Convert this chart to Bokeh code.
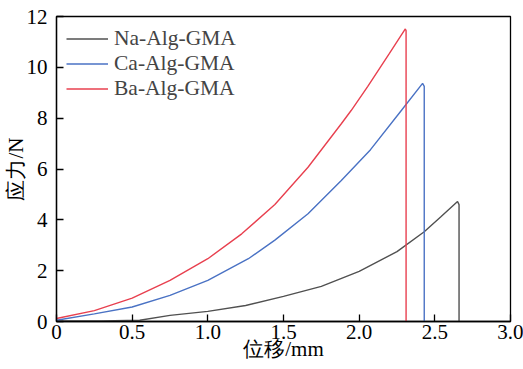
from bokeh.plotting import figure
from bokeh.models import Range1d, FixedTicker, Legend, LegendItem
from bokeh.embed import file_html
from bokeh.resources import INLINE

# Data
na_x = [0.0, 0.3, 0.55, 0.75, 1.0, 1.25, 1.5, 1.75, 2.0, 2.25, 2.43, 2.54, 2.65, 2.66, 2.66]
na_y = [0.02, 0.02, 0.05, 0.24, 0.40, 0.63, 0.99, 1.38, 1.97, 2.75, 3.53, 4.12, 4.72, 4.6, 0.0]

ca_x = [0.0, 0.25, 0.5, 0.75, 1.0, 1.268, 1.443, 1.662, 1.882, 2.075, 2.276, 2.419, 2.43, 2.43]
ca_y = [0.05, 0.30, 0.57, 1.03, 1.62, 2.47, 3.20, 4.24, 5.55, 6.76, 8.28, 9.37, 9.25, 0.0]

ba_x = [0.0, 0.25, 0.5, 0.75, 1.0, 1.224, 1.443, 1.662, 1.882, 1.947, 2.057, 2.2, 2.305, 2.31, 2.31]
ba_y = [0.12, 0.43, 0.92, 1.62, 2.47, 3.45, 4.60, 6.07, 7.78, 8.30, 9.25, 10.55, 11.51, 11.45, 0.0]

series_names = ["Na-Alg-GMA", "Ca-Alg-GMA", "Ba-Alg-GMA"]
series_colors = ["#505050", "#4a72c4", "#e8404f"]

x_ticks = [0, 0.5, 1, 1.5, 2, 2.5, 3]
x_tick_labels = ["0", "0.5", "1.0", "1.5", "2.0", "2.5", "3.0"]
y_ticks = [0, 2, 4, 6, 8, 10, 12]

x_title = "位移/mm"
y_title = "应力/N"

FONT = "Liberation Serif"
FS = "21px"

p = figure(width=523, height=369, output_backend="svg", toolbar_location=None,
           x_range=Range1d(0, 3.0), y_range=Range1d(0, 12.0),
           min_border_left=54, min_border_right=13, min_border_top=16, min_border_bottom=48)

p.grid.visible = False
p.background_fill_color = "white"
p.border_fill_color = "white"
p.outline_line_color = "black"
p.outline_line_width = 1.3
p.outline_line_alpha = 1.0

renderers = []
for xs, ys, c in [(na_x, na_y, series_colors[0]), (ca_x, ca_y, series_colors[1]), (ba_x, ba_y, series_colors[2])]:
    r = p.line(xs, ys, line_color=c, line_width=1.4)
    renderers.append(r)

p.xaxis.ticker = FixedTicker(ticks=x_ticks)
p.xaxis.major_label_overrides = {t: l for t, l in zip(x_ticks, x_tick_labels)}
p.yaxis.ticker = FixedTicker(ticks=y_ticks)

for ax in (p.xaxis[0], p.yaxis[0]):
    ax.major_tick_in = 7
    ax.major_tick_out = 0
    ax.minor_tick_in = 0
    ax.minor_tick_out = 0
    ax.axis_line_color = "black"
    ax.axis_line_width = 1.3
    ax.major_tick_line_color = "black"
    ax.major_tick_line_width = 1.3
    ax.major_label_text_font = FONT
    ax.major_label_text_font_size = FS
    ax.major_label_text_color = "black"
    ax.axis_label_text_font = FONT
    ax.axis_label_text_font_size = FS
    ax.axis_label_text_font_style = "normal"
    ax.axis_label_text_color = "black"

p.xaxis.axis_label = x_title
p.yaxis.axis_label = y_title
p.xaxis.major_label_standoff = 3
p.yaxis.major_label_standoff = 9
p.xaxis.axis_label_standoff = -5
p.yaxis.axis_label_standoff = -4

legend = Legend(items=[LegendItem(label=n, renderers=[r]) for n, r in zip(series_names, renderers)],
                location="top_left")
legend.border_line_color = None
legend.background_fill_alpha = 0
legend.label_text_font = FONT
legend.label_text_font_size = "21.5px"
legend.glyph_width = 42
legend.label_standoff = 6
legend.spacing = 0
legend.label_height = 25
legend.glyph_height = 25
legend.margin = 10
legend.padding = 9
p.add_layout(legend)

open("out.html", "w").write(file_html(p, INLINE))
